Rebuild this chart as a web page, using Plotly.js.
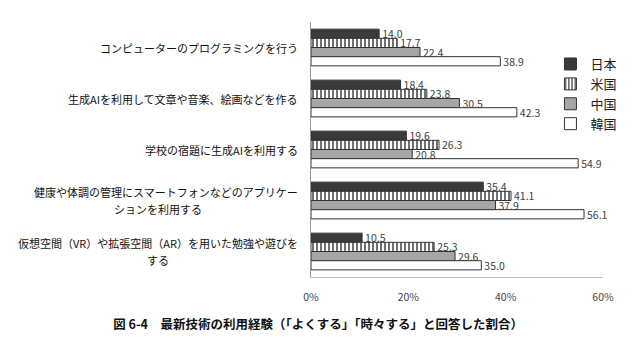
<!DOCTYPE html>
<html><head><meta charset="utf-8">
<script src="https://cdn.plot.ly/plotly-3.0.1.min.js"></script>
<style>html,body{margin:0;padding:0;background:#fff;}</style>
</head><body><div id="chart" style="width:640px;height:360px;"></div>
<script>
const categories = [
  "コンピューターのプログラミングを行う",
  "生成AIを利用して文章や音楽、絵画などを作る",
  "学校の宿題に生成AIを利用する",
  "健康や体調の管理にスマートフォンなどのアプリケー<br>ションを利用する",
  "仮想空間（VR）や拡張空間（AR）を用いた勉強や遊びを<br>する"
];
const japan = [14.0, 18.4, 19.6, 35.4, 10.5];
const usa   = [17.7, 23.8, 26.3, 41.1, 25.3];
const china = [22.4, 30.5, 20.8, 37.9, 29.6];
const korea = [38.9, 42.3, 54.9, 56.1, 35.0];
const seriesNames = ["日本", "米国", "中国", "韓国"];
const tickVals = [0, 20, 40, 60];
const tickText = ["0%", "20%", "40%", "60%"];

const F = '"Noto Sans CJK JP", "Noto Sans", sans-serif';
function bar(name, vals, fill, pattern) {
  const m = {color: fill, line: {color: '#333', width: 1}};
  if (pattern) m.pattern = pattern;
  return {
    type: 'bar', orientation: 'h', name: name, x: vals, y: categories,
    marker: m, texttemplate: '%{x:.1f}', textposition: 'outside',
    textfont: {size: 10.5, color: '#404040', family: F}, cliponaxis: false
  };
}
const data = [
  bar(seriesNames[0], japan, '#3a3a3a'),
  bar(seriesNames[1], usa, '#ffffff', {shape: '|', fgcolor: '#333', bgcolor: '#fff', size: 4, solidity: 0.35}),
  bar(seriesNames[2], china, '#a6a6a6'),
  bar(seriesNames[3], korea, '#ffffff')
];
// category labels: one annotation per line, block centred on the category, lines centred on each other
const annotations = [];
categories.forEach(c => {
  const lines = c.split('<br>');
  const n = lines.length;
  // centre of the widest line sits at a fixed offset; shorter lines centred under it
  lines.forEach((ln, i) => {
    annotations.push({
      xref: 'paper', yref: 'y', x: 0, y: c, xanchor: n > 1 && i > 0 ? 'center' : 'right',
      yanchor: 'middle', xshift: n > 1 && i > 0 ? -153 : -11,
      yshift: ((n - 1) / 2 - i) * 17, text: ln, showarrow: false,
      font: {size: 11, color: '#111', family: F}
    });
  });
});
const layout = {
  width: 640, height: 360,
  margin: {l: 311, r: 37, t: 22, b: 83},
  paper_bgcolor: '#fff', plot_bgcolor: '#fff',
  font: {family: F, size: 11, color: '#222'},
  barmode: 'group', bargap: 0.28, bargroupgap: 0,
  uniformtext: {mode: 'show', minsize: 10.5},
  showlegend: true,
  legend: {x: 0.82, y: 0.894, xanchor: 'left', yanchor: 'top', font: {size: 13, color: '#222'},
           bgcolor: 'rgba(0,0,0,0)', itemwidth: 30, tracegroupgap: 0},
  xaxis: {range: [0, 60], tickvals: tickVals, ticktext: tickText, showgrid: false, zeroline: false,
          showline: true, linecolor: '#bbb', linewidth: 1, ticks: '', ticklabelstandoff: 10,
          tickfont: {size: 10.5, color: '#444'}},
  yaxis: {autorange: 'reversed', showline: true, linecolor: '#999', linewidth: 1, ticks: '',
          showgrid: false, showticklabels: false},
  annotations: annotations,
  title: {text: '図 6-4　最新技術の利用経験（「よくする」「時々する」と回答した割合）',
          x: 0.497, xanchor: 'center', xref: 'container', y: 0.097, yanchor: 'middle',
          font: {size: 12.5, color: '#111', family: F, weight: 'bold'}}
};
Plotly.newPlot('chart', data, layout, {staticPlot: true});
</script></body></html>
